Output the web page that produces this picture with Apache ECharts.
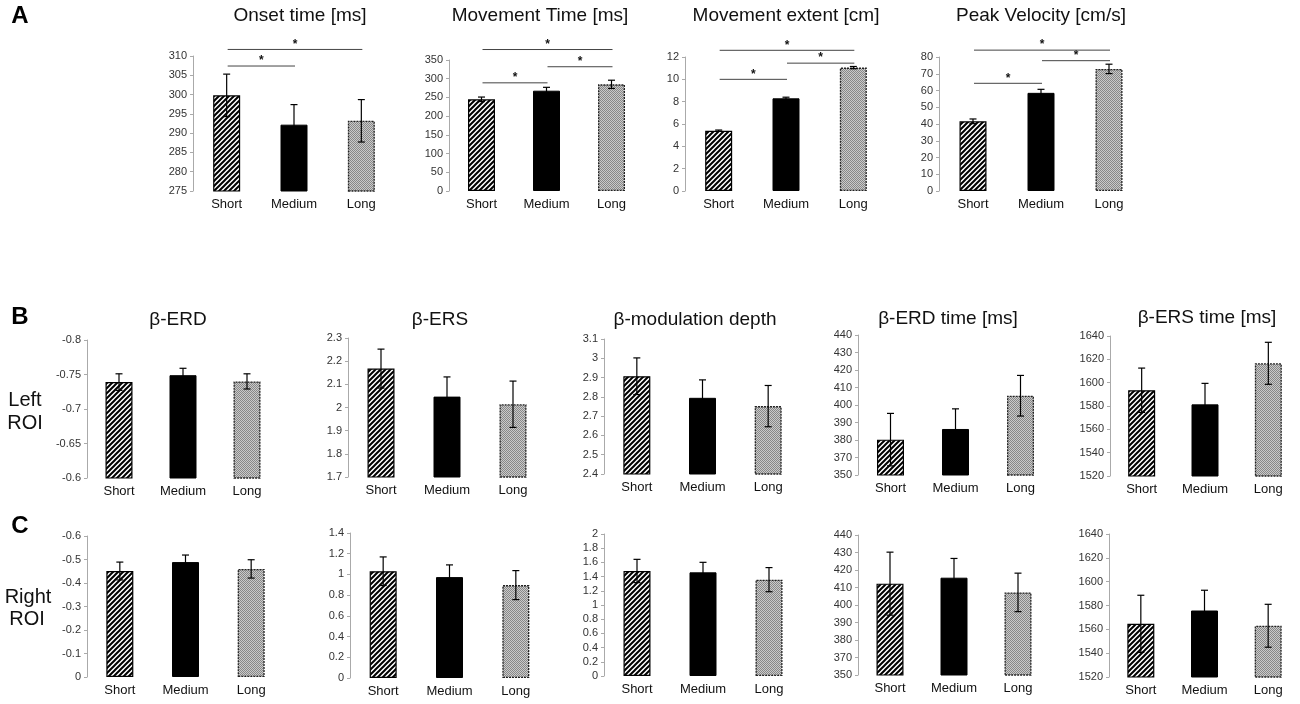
<!DOCTYPE html>
<html>
<head>
<meta charset="UTF-8">
<title>Movement and beta modulation</title>
<script src="https://cdn.jsdelivr.net/npm/echarts@6/dist/echarts.min.js"></script>
<style>
  html, body { margin: 0; padding: 0; background: #fff; }
  #chart { width: 1300px; height: 704px; }
</style>
</head>
<body>
<div id="chart"></div>
<script>
// ---- data ----
var categories = ['Short', 'Medium', 'Long'];

// row A: kinematics
var onsetMean = [299.8, 292.2, 293.2];
var onsetErr = [5.5, 5.2, 5.5];
var onsetSig = [[0, 1, 307.4], [0, 2, 311.7]];

var mtMean = [245, 268, 285];
var mtErr = [6, 9, 11];
var mtSig = [[0, 1, 289], [1, 2, 332], [0, 2, 378]];

var extentMean = [5.4, 8.3, 11.05];
var extentErr = [0.06, 0.1, 0.1];
var extentSig = [[0, 1, 10.0], [1, 2, 11.45], [0, 2, 12.6]];

var velMean = [41.6, 58.6, 72.9];
var velErr = [1.4, 2.1, 2.8];
var velSig = [[0, 1, 64.3], [1, 2, 77.8], [0, 2, 84.1]];

// row B: left ROI
var erdLeftMean = [-0.739, -0.749, -0.740];
var erdLeftErr = [0.012, 0.010, 0.011];
var ersLeftMean = [2.168, 2.047, 2.014];
var ersLeftErr = [0.084, 0.085, 0.10];
var modLeftMean = [2.907, 2.795, 2.752];
var modLeftErr = [0.095, 0.093, 0.107];
var erdTimeLeftMean = [380.2, 386.3, 405.3];
var erdTimeLeftErr = [15, 11.5, 11.6];
var ersTimeLeftMean = [1593.5, 1581.4, 1616.6];
var ersTimeLeftErr = [19, 18, 18];

// row C: right ROI
var erdRightMean = [-0.451, -0.489, -0.460];
var erdRightErr = [0.038, 0.030, 0.039];
var ersRightMean = [1.031, 0.974, 0.897];
var ersRightErr = [0.138, 0.118, 0.14];
var modRightMean = [1.479, 1.460, 1.357];
var modRightErr = [0.164, 0.141, 0.17];
var erdTimeRightMean = [412.2, 415.6, 407.2];
var erdTimeRightErr = [18, 11, 11];
var ersTimeRightMean = [1564.6, 1575.8, 1563.0];
var ersTimeRightErr = [24, 17, 18];

// plain tick labels (no thousands separator)
function plainLabel(v) { return String(+v.toFixed(4)); }
// beta-ERD time axis: the lowest tick is printed as 350 in the figure
function erdTimeLabel(v) { return v === 360 ? '350' : String(v); }

// ---- panels (layout boxes are [left, top, width, height]) ----
var panels = [
  {title: 'Onset time [ms]', tx: 300, ty: 16, mean: onsetMean, err: onsetErr, sig: onsetSig, min: 275, max: 310, step: 5, box: [193, 56, 202, 135]},
  {title: 'Movement Time [ms]', tx: 540, ty: 16, mean: mtMean, err: mtErr, sig: mtSig, min: 0, max: 350, step: 50, box: [449, 60, 195, 131]},
  {title: 'Movement extent [cm]', tx: 786, ty: 16, mean: extentMean, err: extentErr, sig: extentSig, min: 0, max: 12, step: 2, box: [685, 57, 202, 134]},
  {title: 'Peak Velocity [cm/s]', tx: 1041, ty: 16, mean: velMean, err: velErr, sig: velSig, min: 0, max: 80, step: 10, box: [939, 57, 204, 134]},

  {title: 'β-ERD', tx: 178, ty: 320, mean: erdLeftMean, err: erdLeftErr, min: -0.8, max: -0.6, step: 0.05, inverse: true, box: [87, 340, 192, 138]},
  {title: 'β-ERS', tx: 440, ty: 320, mean: ersLeftMean, err: ersLeftErr, min: 1.7, max: 2.3, step: 0.1, box: [348, 338, 198, 139]},
  {title: 'β-modulation depth', tx: 695, ty: 320, mean: modLeftMean, err: modLeftErr, min: 2.4, max: 3.1, step: 0.1, box: [604, 339, 197, 135]},
  {title: 'β-ERD time [ms]', tx: 948, ty: 319, mean: erdTimeLeftMean, err: erdTimeLeftErr, min: 360, max: 440, step: 10, fmt: erdTimeLabel, box: [858, 335, 195, 140]},
  {title: 'β-ERS time [ms]', tx: 1207, ty: 318, mean: ersTimeLeftMean, err: ersTimeLeftErr, min: 1520, max: 1640, step: 20, box: [1110, 336, 203, 140]},

  {mean: erdRightMean, err: erdRightErr, min: -0.6, max: 0, step: 0.1, inverse: true, box: [87, 536, 197, 141]},
  {mean: ersRightMean, err: ersRightErr, min: 0, max: 1.4, step: 0.2, box: [350, 533, 199, 145]},
  {mean: modRightMean, err: modRightErr, min: 0, max: 2, step: 0.2, box: [604, 534, 198, 142]},
  {mean: erdTimeRightMean, err: erdTimeRightErr, min: 360, max: 440, step: 10, fmt: erdTimeLabel, box: [858, 535, 192, 140]},
  {mean: ersTimeRightMean, err: ersTimeRightErr, min: 1520, max: 1640, step: 20, box: [1109, 534, 204, 143]}
];

// ---- fill patterns ----
function hatchTile() {
  var c = document.createElement('canvas');
  c.width = 5; c.height = 5;
  var g = c.getContext('2d');
  g.fillStyle = '#fff';
  g.fillRect(0, 0, 5, 5);
  g.strokeStyle = '#000';
  g.lineWidth = 2;
  g.beginPath();
  g.moveTo(-1, 6); g.lineTo(6, -1);
  g.moveTo(-1, 1); g.lineTo(1, -1);
  g.moveTo(4, 6); g.lineTo(6, 4);
  g.stroke();
  return c;
}
function greyTile() {
  var c = document.createElement('canvas');
  c.width = 2; c.height = 2;
  var g = c.getContext('2d');
  g.fillStyle = '#cacaca';
  g.fillRect(0, 0, 2, 2);
  g.fillStyle = '#888';
  g.fillRect(0, 0, 1, 1);
  g.fillRect(1, 1, 1, 1);
  return c;
}

var barStyles = [
  {color: {image: hatchTile(), repeat: 'repeat'}, borderColor: '#000', borderWidth: 1.2},
  {color: '#000', borderColor: '#000', borderWidth: 1},
  {color: {image: greyTile(), repeat: 'repeat'}, borderColor: '#222', borderWidth: 1.3, borderType: [2, 1]}
];

var grids = [], xAxes = [], yAxes = [], series = [];
var graphics = [];

panels.forEach(function (p, i) {
  grids.push({left: p.box[0], top: p.box[1], width: p.box[2], height: p.box[3], containLabel: false});
  xAxes.push({
    type: 'category', gridIndex: i, data: categories,
    axisLine: {show: false}, axisTick: {show: false},
    axisLabel: {fontSize: 13, color: '#111', margin: 7, fontFamily: 'Liberation Sans'}
  });
  yAxes.push({
    type: 'value', gridIndex: i, min: p.min, max: p.max, interval: p.step, inverse: !!p.inverse,
    axisLine: {show: true, lineStyle: {color: '#aaa', width: 1}},
    axisTick: {show: true, length: 3, lineStyle: {color: '#aaa'}},
    splitLine: {show: false},
    axisLabel: {fontSize: 11, color: '#333', margin: 6, fontFamily: 'Liberation Sans', formatter: p.fmt || plainLabel}
  });

  series.push({
    type: 'bar', xAxisIndex: i, yAxisIndex: i, barWidth: 27, clip: true, z: 2,
    data: p.mean.map(function (v, k) { return {value: v, itemStyle: barStyles[k]}; }),
    silent: true
  });

  series.push({
    type: 'custom', xAxisIndex: i, yAxisIndex: i, silent: true, z: 5, clip: false,
    data: p.mean.map(function (v, k) { return [k, v - p.err[k], v + p.err[k]]; }),
    encode: {x: 0, y: [1, 2]},
    renderItem: function (params, api) {
      var a = api.coord([api.value(0), api.value(2)]);
      var b = api.coord([api.value(0), api.value(1)]);
      var w = 3.5;
      var st = {stroke: '#000', lineWidth: 1.2};
      return {type: 'group', children: [
        {type: 'line', shape: {x1: a[0], y1: a[1], x2: b[0], y2: b[1]}, style: st},
        {type: 'line', shape: {x1: a[0] - w, y1: a[1], x2: a[0] + w, y2: a[1]}, style: st},
        {type: 'line', shape: {x1: b[0] - w, y1: b[1], x2: b[0] + w, y2: b[1]}, style: st}
      ]};
    }
  });

  if (p.sig) {
    series.push({
      type: 'custom', xAxisIndex: i, yAxisIndex: i, silent: true, clip: false, z: 5,
      data: p.sig,
      encode: {x: [0, 1], y: 2},
      renderItem: function (params, api) {
        var a = api.coord([api.value(0), api.value(2)]);
        var b = api.coord([api.value(1), api.value(2)]);
        return {type: 'group', children: [
          {type: 'line', shape: {x1: a[0] + 1, y1: a[1], x2: b[0] + 1, y2: b[1]}, style: {stroke: '#444', lineWidth: 1}},
          {type: 'text', x: (a[0] + b[0]) / 2 + 1, y: a[1] - 5,
            style: {text: '*', fill: '#111', font: 'bold 12px "Liberation Sans"', textAlign: 'center', textVerticalAlign: 'middle'}}
        ]};
      }
    });
  }

  if (p.title) {
    graphics.push({type: 'text', x: p.tx, y: p.ty,
      style: {text: p.title, fill: '#111', font: '19px "Liberation Sans"', textAlign: 'center', textVerticalAlign: 'middle'}});
  }
});

// panel letters and ROI labels
[['A', 20, 16], ['B', 20, 317], ['C', 20, 526]].forEach(function (t) {
  graphics.push({type: 'text', x: t[1], y: t[2],
    style: {text: t[0], fill: '#000', font: 'bold 24px "Liberation Sans"', textAlign: 'center', textVerticalAlign: 'middle'}});
});
[['Left', 25, 400], ['ROI', 25, 423], ['Right', 28, 597], ['ROI', 27, 619]].forEach(function (t) {
  graphics.push({type: 'text', x: t[1], y: t[2],
    style: {text: t[0], fill: '#111', font: '20px "Liberation Sans"', textAlign: 'center', textVerticalAlign: 'middle'}});
});

var chart = echarts.init(document.getElementById('chart'));
chart.setOption({
  animation: false,
  backgroundColor: '#fff',
  grid: grids,
  xAxis: xAxes,
  yAxis: yAxes,
  series: series,
  graphic: graphics
});
</script>
</body>
</html>
